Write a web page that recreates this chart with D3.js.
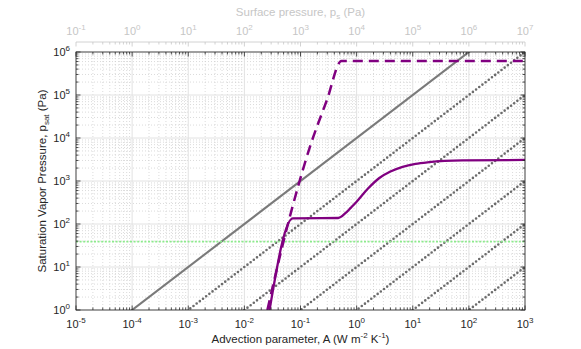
<!DOCTYPE html>
<html>
<head>
<meta charset="utf-8">
<script src="https://cdn.jsdelivr.net/npm/d3@7"></script>
<style>
  body { margin: 0; background: #fff; }
  text { font-family: "Liberation Sans", Arial, sans-serif; }
</style>
</head>
<body>
<div id="chart"></div>
<script>
// ---- data ----
const xDecades = [-5, -4, -3, -2, -1, 0, 1, 2, 3];
const topDecades = [-1, 0, 1, 2, 3, 4, 5, 6, 7];
const yDecades = [0, 1, 2, 3, 4, 5, 6];

// p = c * A reference lines
const solidRefCoef = 1e4;
const dottedRefCoefs = [1e3, 1e2, 1e1, 1, 1e-1, 1e-2];
const greenLevel = 39;

// purple dashed curve
const dashedA = [0.0257, 0.050, 0.0955, 0.1445, 0.295, 0.537, 1000];
const dashedP = [1, 40, 955, 5750, 75900, 616600, 616600];

// purple solid curve
const solidA = [0.0281, 0.0729, 0.47, 0.63, 0.79, 1.0, 1.58, 2.54, 4.0, 6.6, 11.2, 19.6, 76.9, 1000];
const solidP = [1, 135, 138, 178, 240, 330, 660, 1175, 1660, 2140, 2510, 2750, 3020, 3090];

// ---- layout ----
const width = 581, height = 349;
const pLeft = 76, pRight = 525, pTop = 52, pBottom = 310;
const topAxisY = 42;

const svg = d3.select("#chart").append("svg")
  .attr("width", width).attr("height", height);

const x = d3.scaleLog().domain([1e-5, 1e3]).range([pLeft, pRight]);
const xTop = d3.scaleLog().domain([1e-1, 1e7]).range([pLeft, pRight]);
const y = d3.scaleLog().domain([1, 1e6]).range([pBottom, pTop]);

function minors(decades) {
  const out = [];
  decades.slice(0, -1).forEach(k => {
    for (let m = 2; m <= 9; m++) out.push(m * Math.pow(10, k));
  });
  return out;
}
const xMaj = xDecades.map(k => Math.pow(10, k));
const xMin = minors(xDecades);
const yMaj = yDecades.map(k => Math.pow(10, k));
const yMin = minors(yDecades);

// ---- grid ----
const grid = svg.append("g");
grid.selectAll(".vmin").data(xMin).enter().append("line")
  .attr("x1", d => x(d)).attr("x2", d => x(d)).attr("y1", pTop).attr("y2", pBottom)
  .attr("stroke", "#cccccc").attr("stroke-width", 0.7).attr("stroke-dasharray", "1,2");
grid.selectAll(".hmin").data(yMin).enter().append("line")
  .attr("y1", d => y(d)).attr("y2", d => y(d)).attr("x1", pLeft).attr("x2", pRight)
  .attr("stroke", "#cccccc").attr("stroke-width", 0.7).attr("stroke-dasharray", "1,2");
grid.selectAll(".vmaj").data(xMaj).enter().append("line")
  .attr("x1", d => x(d)).attr("x2", d => x(d)).attr("y1", pTop).attr("y2", pBottom)
  .attr("stroke", "#e2e2e2").attr("stroke-width", 1);
grid.selectAll(".hmaj").data(yMaj).enter().append("line")
  .attr("y1", d => y(d)).attr("y2", d => y(d)).attr("x1", pLeft).attr("x2", pRight)
  .attr("stroke", "#e2e2e2").attr("stroke-width", 1);

// ---- plotted lines ----
svg.append("clipPath").attr("id", "clip").append("rect")
  .attr("x", pLeft).attr("y", pTop).attr("width", pRight - pLeft).attr("height", pBottom - pTop);
const plot = svg.append("g").attr("clip-path", "url(#clip)");

const xEnds = x.domain();
const refLine = c => d3.line()(xEnds.map(a => [x(a), y(c * a)]));

plot.selectAll(".dotted").data(dottedRefCoefs).enter().append("path")
  .attr("d", refLine)
  .attr("fill", "none").attr("stroke", "#6c6c6c").attr("stroke-width", 2.6)
  .attr("stroke-linecap", "round").attr("stroke-dasharray", "0,4");

plot.append("path").attr("d", refLine(solidRefCoef))
  .attr("fill", "none").attr("stroke", "#7a7a7a").attr("stroke-width", 2.1);

plot.append("line")
  .attr("x1", pLeft).attr("x2", pRight).attr("y1", y(greenLevel)).attr("y2", y(greenLevel))
  .attr("stroke", "#8ceb8c").attr("stroke-width", 1.8).attr("stroke-dasharray", "2,1.6");

const curve = d3.line().x(d => x(d[0])).y(d => y(d[1])).curve(d3.curveMonotoneX);

plot.append("path").attr("d", curve(dashedA.map((a, i) => [a, dashedP[i]])))
  .attr("fill", "none").attr("stroke", "#800080").attr("stroke-width", 2.5)
  .attr("stroke-dasharray", "10,6");

plot.append("path").attr("d", curve(solidA.map((a, i) => [a, solidP[i]])))
  .attr("fill", "none").attr("stroke", "#800080").attr("stroke-width", 2.3);

// ---- box + ticks ----
const axCol = "#262626";
const box = svg.append("g").attr("stroke", axCol).attr("stroke-width", 0.8);
box.append("rect").attr("x", pLeft).attr("y", pTop).attr("width", pRight - pLeft).attr("height", pBottom - pTop)
  .attr("fill", "none");

function xTicks(vals, len) {
  vals.forEach(v => {
    box.append("line").attr("x1", x(v)).attr("x2", x(v)).attr("y1", pBottom).attr("y2", pBottom - len);
    box.append("line").attr("x1", x(v)).attr("x2", x(v)).attr("y1", pTop).attr("y2", pTop + len);
  });
}
function yTicks(vals, len) {
  vals.forEach(v => {
    box.append("line").attr("y1", y(v)).attr("y2", y(v)).attr("x1", pLeft).attr("x2", pLeft + len);
    box.append("line").attr("y1", y(v)).attr("y2", y(v)).attr("x1", pRight).attr("x2", pRight - len);
  });
}
xTicks(xMaj, 4.5); xTicks(xMin, 2.5);
yTicks(yMaj, 4.5); yTicks(yMin, 2.5);

// top (surface pressure) axis
const topCol = "#c6c6c6";
const topG = svg.append("g").attr("stroke", topCol).attr("stroke-width", 0.8);
topG.append("line").attr("x1", pLeft).attr("x2", pRight).attr("y1", topAxisY).attr("y2", topAxisY);
const topMaj = topDecades.map(k => Math.pow(10, k));
topMaj.forEach(v => topG.append("line").attr("x1", xTop(v)).attr("x2", xTop(v))
  .attr("y1", topAxisY).attr("y2", topAxisY + 4.5));
minors(topDecades).forEach(v => topG.append("line").attr("x1", xTop(v)).attr("x2", xTop(v))
  .attr("y1", topAxisY).attr("y2", topAxisY + 2.5));

// ---- labels ----
function powLabel(g, px, py, exp, anchor, color) {
  const t = g.append("text").attr("x", px).attr("y", py)
    .attr("text-anchor", anchor).attr("font-size", 11).attr("fill", color);
  t.append("tspan").text("10");
  t.append("tspan").attr("dy", -5).attr("font-size", 8).text(exp);
  return t;
}
const labels = svg.append("g");
xDecades.forEach(k => powLabel(labels, x(Math.pow(10, k)), 328, k, "middle", axCol));
yDecades.forEach(k => powLabel(labels, 70, y(Math.pow(10, k)) + 4, k, "end", axCol));
topDecades.forEach(k => powLabel(labels, xTop(Math.pow(10, k)), 35, k, "middle", topCol));

const xt = labels.append("text").attr("x", (pLeft + pRight) / 2).attr("y", 343)
  .attr("text-anchor", "middle").attr("font-size", 11.5).attr("fill", axCol);
xt.append("tspan").text("Advection parameter, A (W m");
xt.append("tspan").attr("dy", -5).attr("font-size", 8).text("-2");
xt.append("tspan").attr("dy", 5).text(" K");
xt.append("tspan").attr("dy", -5).attr("font-size", 8).text("-1");
xt.append("tspan").attr("dy", 5).text(")");

const yt = labels.append("text")
  .attr("transform", `translate(46,${(pTop + pBottom) / 2}) rotate(-90)`)
  .attr("text-anchor", "middle").attr("font-size", 11.5).attr("fill", axCol);
yt.append("tspan").text("Saturation Vapor Pressure, p");
yt.append("tspan").attr("dy", 3).attr("font-size", 8).text("sat");
yt.append("tspan").attr("dy", -3).text(" (Pa)");

const tt = labels.append("text").attr("x", (pLeft + pRight) / 2).attr("y", 16)
  .attr("text-anchor", "middle").attr("font-size", 11.5).attr("fill", topCol);
tt.append("tspan").text("Surface pressure, p");
tt.append("tspan").attr("dy", 3).attr("font-size", 8).text("s");
tt.append("tspan").attr("dy", -3).text(" (Pa)");
</script>
</body>
</html>
